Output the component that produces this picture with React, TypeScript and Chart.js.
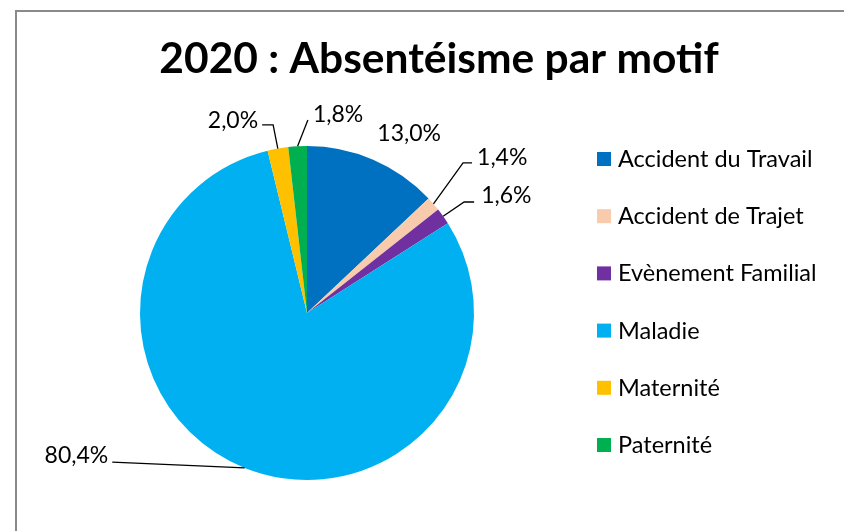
import React, { useEffect, useRef } from "react";
import { Chart, registerables } from "chart.js";

Chart.register(...registerables);

const TITLE = "2020 : Absentéisme par motif";
const CATEGORIES = [
  "Accident du Travail",
  "Accident de Trajet",
  "Evènement Familial",
  "Maladie",
  "Maternité",
  "Paternité",
];
const VALUES = [13.0, 1.4, 1.6, 80.4, 2.0, 1.8];
const COLORS = ["#0070C0", "#F8CBAD", "#7030A0", "#00B0F0", "#FFC000", "#00B050"];

// label placement relative to each slice's outer mid point
const LABEL_LAYOUT = [
  { dx: 36, dy: -18.7, align: "center", leader: [] as number[][] },
  { dx: 43.6, dy: -38.9, align: "left", leader: [[29.6, -41], [38.6, -41]] },
  { dx: 38, dy: -13.3, align: "left", leader: [[21, -14.3], [31, -14.3]] },
  { dx: -136.4, dy: -4.8, align: "right", leader: [[-132.4, -5.8]] },
  { dx: -19.7, dy: -20.6, align: "right", leader: [[-4.7, -23.6], [-15.7, -23.6]] },
  { dx: 15.3, dy: -24.3, align: "left", leader: [[10.3, -26.3]] },
];

const FONT = "Lato, 'Open Sans', sans-serif";

const fmt = (v: number) => v.toFixed(1).replace(".", ",") + "%";

const decorPlugin = {
  id: "decor",
  beforeDraw(chart: any) {
    const ctx = chart.ctx;
    ctx.save();
    ctx.fillStyle = "#ffffff";
    ctx.fillRect(0, 0, chart.width, chart.height);
    ctx.strokeStyle = "#8a8a8a";
    ctx.lineWidth = 2;
    ctx.beginPath();
    ctx.moveTo(16, chart.height + 2);
    ctx.lineTo(16, 11);
    ctx.lineTo(chart.width + 2, 11);
    ctx.stroke();
    ctx.restore();
  },
  afterDraw(chart: any) {
    const ctx = chart.ctx;
    ctx.save();
    // title
    ctx.fillStyle = "#000000";
    ctx.font = `bold 42.5px ${FONT}`;
    ctx.textAlign = "center";
    ctx.textBaseline = "alphabetic";
    ctx.fillText(TITLE, 439, 73);

    // data labels with leader lines
    const meta = chart.getDatasetMeta(0);
    const data = chart.data.datasets[0].data as number[];
    ctx.font = `23px ${FONT}`;
    meta.data.forEach((arc: any, i: number) => {
      const { x, y, startAngle, endAngle, outerRadius } = arc.getProps(
        ["x", "y", "startAngle", "endAngle", "outerRadius"],
        true
      );
      const mid = (startAngle + endAngle) / 2;
      const px = x + outerRadius * Math.cos(mid);
      const py = y + outerRadius * Math.sin(mid);
      const lay = LABEL_LAYOUT[i];
      if (lay.leader.length) {
        ctx.strokeStyle = "#000000";
        ctx.lineWidth = 1.3;
        ctx.beginPath();
        ctx.moveTo(px, py);
        lay.leader.forEach((p) => ctx.lineTo(px + p[0], py + p[1]));
        ctx.stroke();
      }
      ctx.fillStyle = "#000000";
      ctx.textAlign = lay.align as CanvasTextAlign;
      ctx.textBaseline = "alphabetic";
      ctx.fillText(fmt(data[i]), px + lay.dx, py + lay.dy);
    });

    // legend
    const labels = chart.data.labels as string[];
    const colors = chart.data.datasets[0].backgroundColor as string[];
    labels.forEach((lab, i) => {
      const cy = 159 + i * 57.2;
      ctx.fillStyle = colors[i];
      ctx.fillRect(597, cy - 7, 14, 14);
      ctx.fillStyle = "#000000";
      ctx.textAlign = "left";
      ctx.textBaseline = "alphabetic";
      ctx.font = `23.5px ${FONT}`;
      ctx.fillText(lab, 618, cy + 8);
    });
    ctx.restore();
  },
};

export default function App() {
  const ref = useRef<HTMLCanvasElement | null>(null);
  useEffect(() => {
    if (!ref.current) return;
    const chart = new Chart(ref.current, {
      type: "pie",
      data: {
        labels: CATEGORIES,
        datasets: [
          {
            data: VALUES,
            backgroundColor: COLORS,
            borderWidth: 0,
          },
        ],
      },
      options: {
        responsive: false,
        animation: false,
        devicePixelRatio: 1,
        layout: { padding: { left: 140, top: 146, right: 370, bottom: 51 } },
        plugins: {
          legend: { display: false },
          title: { display: false },
          tooltip: { enabled: false },
        },
      },
      plugins: [decorPlugin],
    });
    return () => chart.destroy();
  }, []);
  return (
    <div style={{ position: "absolute", left: 0, top: 0, width: 844, height: 531, background: "#fff" }}>
      <canvas ref={ref} width={844} height={531} style={{ display: "block" }} />
    </div>
  );
}
